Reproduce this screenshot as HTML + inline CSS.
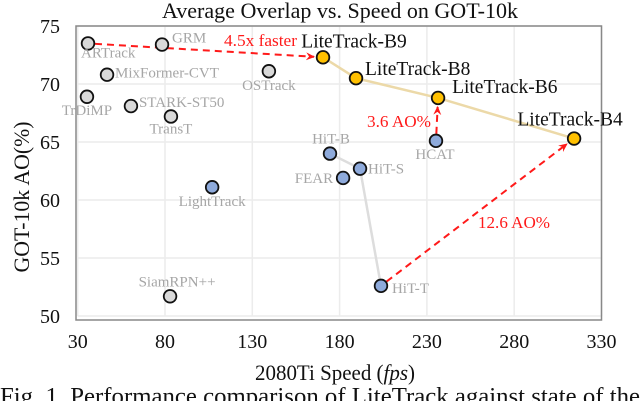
<!DOCTYPE html>
<html><head><meta charset="utf-8"><style>
html,body{margin:0;padding:0;background:#fff;width:640px;height:401px;overflow:hidden}
svg{display:block;font-family:"Liberation Serif",serif}
</style></head><body>
<svg id="chart" width="640" height="401" viewBox="0 0 640 401"></svg>
<script>
const names = ["ARTrack","GRM","MixFormer-CVT","OSTrack","TrDiMP","STARK-ST50","TransT","SiamRPN++","LightTrack","HiT-B","HiT-S","FEAR","HiT-T","HCAT","LiteTrack-B9","LiteTrack-B8","LiteTrack-B6","LiteTrack-B4"];
const speeds = [35.9,78.3,46.8,139.5,35.3,60.5,83.4,82.9,107,174.5,191.7,182,203.7,235.2,170.5,189.4,236.4,314.3];
const aos = [73.5,73.4,70.8,71.1,68.9,68.1,67.2,51.7,61.1,64.0,62.7,61.9,52.6,65.1,72.3,70.5,68.8,65.3];
const kinds = ["g","g","g","g","g","g","g","g","b","b","b","b","b","b","o","o","o","o"];
const xTicks = [30,80,130,180,230,280,330];
const yTicks = [50,55,60,65,70,75];
const lab = {"ARTrack":[-7,14,"start"],"GRM":[10,-2,"start"],"MixFormer-CVT":[8,3,"start"],"OSTrack":[0,19,"middle"],"TrDiMP":[0,18,"middle"],"STARK-ST50":[8,1,"start"],"TransT":[0,17,"middle"],"SiamRPN++":[7,-10,"middle"],"LightTrack":[0,19,"middle"],"HiT-B":[1,-10,"middle"],"HiT-S":[8,5,"start"],"FEAR":[-10,5,"end"],"HiT-T":[11,7,"start"],"HCAT":[-1,18,"middle"],"LiteTrack-B9":[31,-10,"middle"],"LiteTrack-B8":[9,-3,"start"],"LiteTrack-B6":[14,-5,"start"],"LiteTrack-B4":[-4,-13,"middle"]};
const X0=77.7,X1=601.5,Y0=316,Y1=26;
const xs=v=>X0+(v-30)/300*(X1-X0);
const ys=v=>Y0-(v-50)/25*(Y0-Y1);
const svg=document.getElementById('chart');
const NS="http://www.w3.org/2000/svg";
function mk(t,a,p){const e=document.createElementNS(NS,t);for(const k in a)e.setAttribute(k,a[k]);(p||svg).appendChild(e);return e;}
const defs=mk('defs',{});
const mkr=mk('marker',{id:'ar',markerWidth:10,markerHeight:10,refX:8,refY:4,orient:'auto',markerUnits:'userSpaceOnUse'},defs);
mk('path',{d:'M0,0 L9,4 L0,8 L3,4 Z',fill:'#ff1a1a'},mkr);
xTicks.forEach(t=>{const l=mk('line',{x1:xs(t),x2:xs(t),y1:Y1,y2:Y0,stroke:'#ececec','stroke-width':1.5});

const tx=mk('text',{x:xs(t),y:348,'text-anchor':'middle','font-size':20,fill:'#111'});tx.textContent=t;
});
yTicks.forEach(t=>{const l=mk('line',{x1:X0,x2:X1,y1:ys(t),y2:ys(t),stroke:'#ececec','stroke-width':1.5});

const tx=mk('text',{x:60,y:ys(t)+7,'text-anchor':'end','font-size':20,fill:'#111'});tx.textContent=t;
});
const fr=mk('rect',{x:76,y:Y1,width:X1-76,height:Y0+4-Y1,fill:'none',stroke:'#888','stroke-width':1.5});

function pl(arr,col,nm){const pts=arr.map(n=>{const i=names.indexOf(n);return xs(speeds[i])+','+ys(aos[i]);}).join(' ');
const p=mk('polyline',{points:pts,fill:'none',stroke:col,'stroke-width':2.5});}
pl(["HiT-B","HiT-S","HiT-T"],'#dddddd','hit-family-line');
pl(["LiteTrack-B9","LiteTrack-B8","LiteTrack-B6","LiteTrack-B4"],'#ecd9a8','litetrack-family-line');
function arr(a,b,nm){const i=names.indexOf(a),j=names.indexOf(b);
const x1=xs(speeds[i]),y1=ys(aos[i]),x2=xs(speeds[j]),y2=ys(aos[j]);const d=Math.hypot(x2-x1,y2-y1);
const l=mk('line',{x1:x1+(x2-x1)*7/d,y1:y1+(y2-y1)*7/d,x2:x2-(x2-x1)*9/d,y2:y2-(y2-y1)*9/d,stroke:'#ff1a1a','stroke-width':2,'stroke-dasharray':'7,5','marker-end':'url(#ar)'});
}
arr("ARTrack","LiteTrack-B9",'arrow-4-5x-faster');
arr("HCAT","LiteTrack-B6",'arrow-3-6-ao');
arr("HiT-T","LiteTrack-B4",'arrow-12-6-ao');
function rt(x,y,s,nm,w){const t=mk('text',{x:x,y:y,'font-size':17,fill:'#ff1a1a',textLength:w,lengthAdjust:'spacingAndGlyphs'});t.textContent=s;}
rt(224,46,'4.5x faster','annotation-4-5x-faster',73);
rt(367,127,'3.6 AO%','annotation-3-6-ao',64);
rt(478,228,'12.6 AO%','annotation-12-6-ao',72);
const fills={g:'#d9d9d9',b:'#8eaadb',o:'#ffc000'};
names.forEach((n,i)=>{const cx=xs(speeds[i]),cy=ys(aos[i]);
const c=mk('circle',{cx:cx,cy:cy,r:6.3,fill:fills[kinds[i]],stroke:'#111','stroke-width':1.8});


const o=lab[n];const t=mk('text',{x:cx+o[0],y:cy+o[1],'text-anchor':o[2],'font-size':kinds[i]==='o'?19.5:15,fill:kinds[i]==='o'?'#111':'#a6a6a6'});
t.textContent=n;});
</script>
<svg style="position:absolute;left:0;top:0" width="640" height="401">
<text x="162" y="18" textLength="356" lengthAdjust="spacingAndGlyphs" font-size="22" font-family="Liberation Serif,serif" fill="#111">Average Overlap vs. Speed on GOT-10k</text>
<text transform="translate(29,197) rotate(-90)" text-anchor="middle" textLength="151" lengthAdjust="spacingAndGlyphs" font-size="22" font-family="Liberation Serif,serif" fill="#111">GOT-10k AO(%)</text>
<text x="255" y="380" textLength="160" lengthAdjust="spacingAndGlyphs" font-size="22" font-family="Liberation Serif,serif" fill="#111">2080Ti Speed (<tspan font-style="italic">fps</tspan>)</text>
<text x="0" y="404" textLength="640" lengthAdjust="spacingAndGlyphs" font-size="24" font-family="Liberation Serif,serif" fill="#111">Fig. 1. Performance comparison of LiteTrack against state of the</text>
</svg>
</body></html>
